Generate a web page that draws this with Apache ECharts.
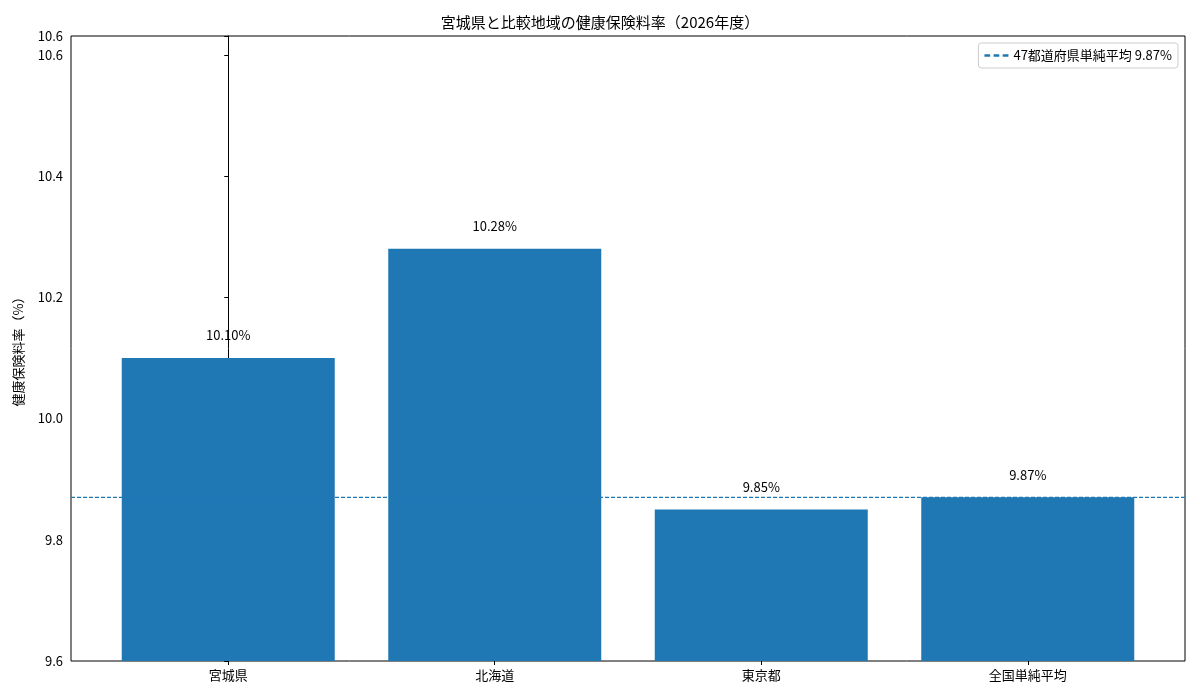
<!DOCTYPE html>
<html><head><meta charset="utf-8">
<script src="https://cdn.jsdelivr.net/npm/echarts@6/dist/echarts.min.js"></script>
<style>html,body{margin:0;padding:0;background:#fff}#c{width:1200px;height:700px}</style>
</head><body><div id="c"></div>
<script>
const categories = ['宮城県','北海道','東京都','全国単純平均'];
const values = [10.10, 10.28, 9.85, 9.87];
const avgValue = 9.87;
const avgName = '47都道府県単純平均 9.87%';
const yTicks = [9.6, 9.8, 10.0, 10.2, 10.4, 10.6];
const font = '"Noto Sans CJK JP", "DejaVu Sans", sans-serif';
const chart = echarts.init(document.getElementById('c'));
chart.setOption({
  animation:false,
  textStyle:{fontFamily:font},
  title:{text:'宮城県と比較地域の健康保険料率（2026年度）',left:'center',top:10,textStyle:{fontSize:15,fontWeight:'normal',color:'#000',fontFamily:font}},
  grid:{left:71,right:15,top:36,bottom:39,show:true,borderColor:'#000',borderWidth:1},
  legend:{right:22,top:43,data:[{name:avgName,icon:'path://M0,4h5v2h-5zM8,4h5v2h-5zM16,4h5v2h-5z'}],itemWidth:24,itemHeight:8,
    borderColor:'#ccc',borderWidth:1,borderRadius:3,padding:[6,6,6,6],textStyle:{fontSize:13,color:'#000'}},
  xAxis:{type:'value',min:-0.59,max:3.59,splitLine:{show:false},
    axisLine:{show:false},
    axisTick:{show:true,customValues:[0,1,2,3],lineStyle:{color:'#000'},length:4},
    axisLabel:{customValues:[0,1,2,3],formatter:v=>categories[Math.round(v)],color:'#000',fontSize:13,margin:8}},
  yAxis:{type:'value',min:9.6,max:10.631,interval:0.2,splitLine:{show:false},
    axisLine:{show:true,lineStyle:{color:'#000'}},axisTick:{show:true,lineStyle:{color:'#000'},length:4},
    axisLabel:{color:'#000',fontSize:13,formatter:v=>v.toFixed(1)},
    name:'健康保険料率（%）',nameLocation:'middle',nameGap:46,nameRotate:90,nameTextStyle:{fontSize:13,color:'#000'}},
  series:[
    {type:'bar',data:values.map((v,i)=>[i,v]),barWidth:213,itemStyle:{color:'#1f77b4'},
      label:{show:true,position:'top',distance:16,color:'#000',fontSize:13,formatter:p=>p.value[1].toFixed(2)+'%'}},
    {type:'line',name:avgName,data:[[-0.59,avgValue],[3.59,avgValue]],symbol:'none',z:5,
      lineStyle:{color:'#1f77b4',type:[4,2],width:1.2},itemStyle:{color:'#1f77b4'}}
  ]
});
</script></body></html>
